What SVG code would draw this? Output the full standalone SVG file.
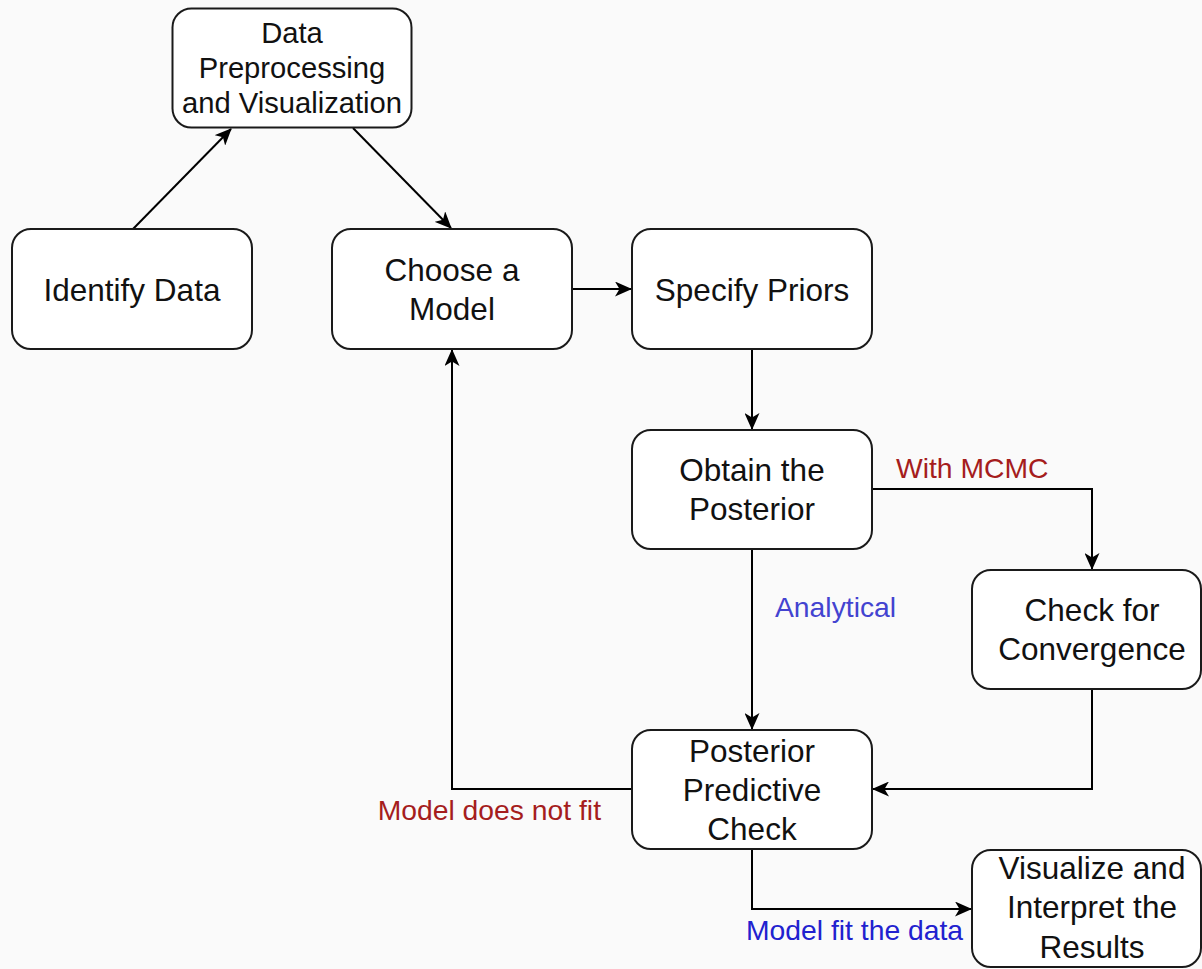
<svg xmlns="http://www.w3.org/2000/svg" width="1202" height="969" viewBox="0 0 1202 969">
  <style>
    .node rect { fill: #ffffff; stroke: #1a1a1a; stroke-width: 2; }
    .node text { font-family: "Liberation Sans", Arial, sans-serif; font-size: 31.5px; fill: #111111; text-anchor: middle; }
    .small text { font-size: 29.2px; }
    .edge { fill: none; stroke: #000000; stroke-width: 2; marker-end: url(#arrow); }
    .lbl { font-family: "Liberation Sans", Arial, sans-serif; font-size: 28.3px; }
    .red { fill: #a51d1d; }
    .blue1 { fill: #4343d0; }
    .blue2 { fill: #2121cf; }
  </style>
  <defs>
    <marker id="arrow" markerUnits="userSpaceOnUse" markerWidth="17" markerHeight="15" refX="16" refY="7.5" orient="auto">
      <path d="M0,0 L17,7.5 L0,15 L4.5,7.5 Z" fill="#000000"/>
    </marker>
  </defs>
  <rect x="0" y="0" width="1202" height="969" fill="#fafafa"/>

  <g id="connectors">
    <path class="edge" d="M133,229 L231,129"/>
    <path class="edge" d="M353,128 L451,228"/>
    <path class="edge" d="M572,289 L631,289"/>
    <path class="edge" d="M752,349 L752,429"/>
    <path class="edge" d="M872,489 L1092,489 L1092,569"/>
    <path class="edge" d="M752,549 L752,729"/>
    <path class="edge" d="M1092,690 L1092,789 L873,789"/>
    <path class="edge" d="M632,789 L452,789 L452,350"/>
    <path class="edge" d="M752,849 L752,909 L971,909"/>
    <text class="lbl red" x="896" y="478">With MCMC</text>
    <text class="lbl blue1" x="775" y="617">Analytical</text>
    <text class="lbl red" x="601" y="820" text-anchor="end">Model does not fit</text>
    <text class="lbl blue2" x="746" y="940">Model fit the data</text>
  </g>

  <g id="data-preprocessing" class="node small">
    <rect x="172.5" y="8.5" width="239" height="119" rx="19"/>
    <text x="292"><tspan x="292" y="43">Data</tspan><tspan x="292" y="78">Preprocessing</tspan><tspan x="292" y="113">and Visualization</tspan></text>
  </g>

  <g id="identify-data" class="node">
    <rect x="12" y="229" width="240" height="120" rx="19"/>
    <text x="132" y="301">Identify Data</text>
  </g>

  <g id="choose-model" class="node">
    <rect x="332" y="229" width="240" height="120" rx="19"/>
    <text x="452"><tspan x="452" y="281">Choose a</tspan><tspan x="452" y="320">Model</tspan></text>
  </g>

  <g id="specify-priors" class="node">
    <rect x="632" y="229" width="240" height="120" rx="19"/>
    <text x="752" y="301">Specify Priors</text>
  </g>

  <g id="obtain-posterior" class="node">
    <rect x="632" y="430" width="240" height="119" rx="19"/>
    <text x="752"><tspan x="752" y="481">Obtain the</tspan><tspan x="752" y="520">Posterior</tspan></text>
  </g>

  <g id="check-convergence" class="node">
    <rect x="972" y="570" width="229" height="119" rx="19"/>
    <text x="1092"><tspan x="1092" y="621">Check for</tspan><tspan x="1092" y="660">Convergence</tspan></text>
  </g>

  <g id="posterior-predictive" class="node">
    <rect x="632" y="730" width="240" height="119" rx="19"/>
    <text x="752"><tspan x="752" y="762">Posterior</tspan><tspan x="752" y="801">Predictive</tspan><tspan x="752" y="840">Check</tspan></text>
  </g>

  <g id="visualize-results" class="node">
    <rect x="972" y="850" width="229" height="117" rx="19"/>
    <text x="1092"><tspan x="1092" y="879">Visualize and</tspan><tspan x="1092" y="918">Interpret the</tspan><tspan x="1092" y="958">Results</tspan></text>
  </g>
</svg>
